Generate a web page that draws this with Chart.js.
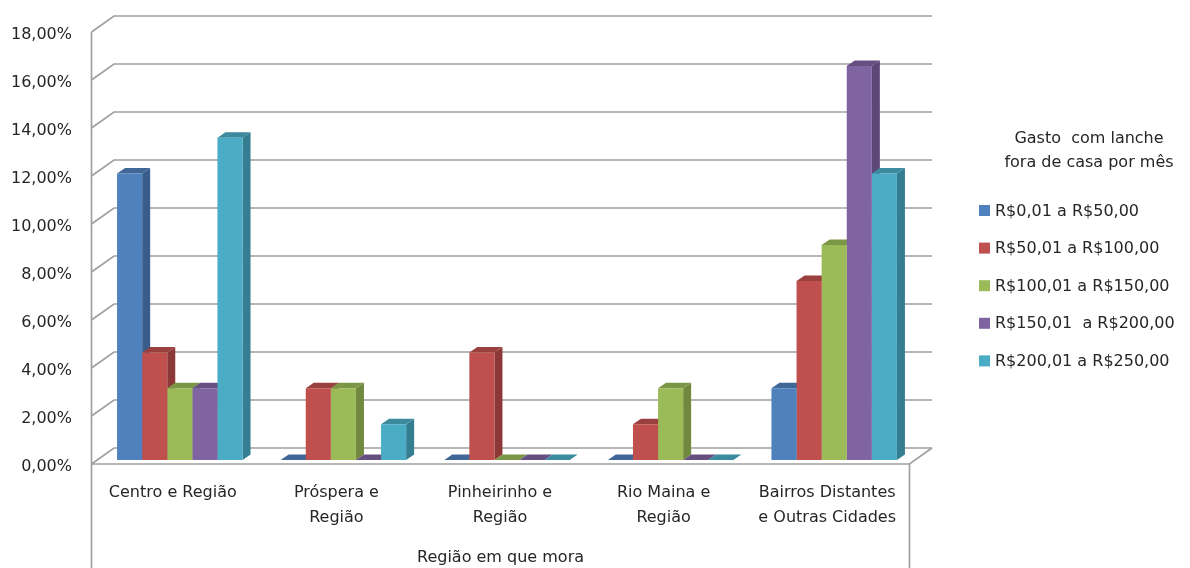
<!DOCTYPE html>
<html><head><meta charset="utf-8">
<script src="https://cdn.jsdelivr.net/npm/chart.js@4/dist/chart.umd.min.js"></script>
<style>html,body{margin:0;padding:0;background:#fff;}#wrap{width:1190px;height:568px;position:relative}</style>
</head><body><div id="wrap"><canvas id="c" width="1190" height="568"></canvas></div>
<script>
// ---- data ----
const categories = ["Centro e Região", ["Próspera e", "Região"], ["Pinheirinho e", "Região"], ["Rio Maina e", "Região"], ["Bairros Distantes", "e Outras Cidades"]];
const seriesNames = ["R$0,01 a R$50,00", "R$50,01 a R$100,00", "R$100,01 a R$150,00", "R$150,01  a R$200,00", "R$200,01 a R$250,00"];
const s1 = [11.94, 0, 0, 0, 2.99];
const s2 = [4.48, 2.99, 4.48, 1.49, 7.46];
const s3 = [2.99, 2.99, 0, 2.99, 8.96];
const s4 = [2.99, 0, 0, 0, 16.42];
const s5 = [13.43, 1.49, 0, 0, 11.94];
const yTicks = [0, 2, 4, 6, 8, 10, 12, 14, 16, 18];
const axisTitle = "Região em que mora";
const legendTitle = ["Gasto  com lanche", "fora de casa por mês"];

// ---- styles ----
const frontColors = ["#4F81BD", "#C0504D", "#9BBB59", "#8064A2", "#4BACC6"];
const sideColors  = ["#385D8A", "#8C3836", "#71893F", "#5C4776", "#357D91"];
const topColors   = ["#3F6797", "#9A403E", "#7C9647", "#665082", "#3C8A9E"];
const FONT = "'DejaVu Sans', sans-serif";
const TXT = "#262626";

const seriesValues = [s1, s2, s3, s4, s5];

function poly(ctx, pts, fill) {
  ctx.beginPath();
  ctx.moveTo(pts[0][0], pts[0][1]);
  for (let i = 1; i < pts.length; i++) ctx.lineTo(pts[i][0], pts[i][1]);
  ctx.closePath();
  ctx.fillStyle = fill;
  ctx.fill();
}

const threeD = {
  id: 'threeD',
  beforeDatasetsDraw(chart) {
    const ctx = chart.ctx, a = chart.chartArea, y = chart.scales.y;
    const fL = a.left - 6.5, bL = a.left + 16, bR = a.right + 16, fR = a.right - 6.5;
    const fdy = 4, bdy = -12;
    ctx.save();
    ctx.strokeStyle = '#a0a0a0';
    ctx.lineWidth = 1.7;
    yTicks.forEach(v => {
      const py = y.getPixelForValue(v);
      ctx.beginPath();
      ctx.moveTo(fL, py + fdy); ctx.lineTo(bL, py + bdy); ctx.lineTo(bR, py + bdy);
      ctx.stroke();
    });
    const y0 = y.getPixelForValue(0), yT = y.getPixelForValue(yTicks[yTicks.length - 1]);
    ctx.beginPath(); ctx.moveTo(fL, yT + fdy); ctx.lineTo(fL, chart.height); ctx.stroke();
    ctx.beginPath(); ctx.moveTo(fL, y0 + fdy); ctx.lineTo(fR, y0 + fdy); ctx.lineTo(bR, y0 + bdy); ctx.stroke();
    ctx.beginPath(); ctx.moveTo(fR, y0 + fdy); ctx.lineTo(fR, chart.height); ctx.stroke();
    // bar depth faces
    const dx = 8, dy = -5.5;
    const n = chart.data.labels.length;
    for (let i = 0; i < n; i++) {
      for (let d = 0; d < chart.data.datasets.length; d++) {
        const bar = chart.getDatasetMeta(d).data[i];
        const p = bar.getProps(['x', 'y', 'base', 'width'], true);
        const x1 = p.x - p.width / 2, x2 = p.x + p.width / 2;
        const top = p.y, base = p.base;
        poly(ctx, [[x2, top], [x2 + dx, top + dy], [x2 + dx, base + dy], [x2, base]], sideColors[d]);
        poly(ctx, [[x1, top], [x2, top], [x2 + dx, top + dy], [x1 + dx, top + dy]], topColors[d]);
      }
    }
    ctx.restore();
  },
  afterDraw(chart) {
    const ctx = chart.ctx, a = chart.chartArea;
    ctx.save();
    ctx.fillStyle = TXT;
    ctx.font = "16px " + FONT;
    ctx.textBaseline = 'middle';
    ctx.textAlign = 'center';
    const fL = a.left - 6.5, fR = a.right - 6.5;
    ctx.fillText(axisTitle, (fL + fR) / 2, 558);
    ctx.fillText(legendTitle[0], 1089, 139);
    ctx.fillText(legendTitle[1], 1089, 163);
    ctx.textAlign = 'left';
    chart.data.datasets.forEach((ds, d) => {
      const cy = 210.5 + d * 37.6;
      ctx.fillStyle = ds.backgroundColor;
      ctx.fillRect(979, cy - 5.5, 11, 11);
      ctx.fillStyle = TXT;
      ctx.fillText(ds.label, 995, cy + 1);
    });
    ctx.restore();
  }
};

new Chart(document.getElementById('c'), {
  type: 'bar',
  data: {
    labels: categories,
    datasets: seriesNames.map((name, d) => ({
      label: name,
      data: seriesValues[d],
      backgroundColor: frontColors[d],
      borderWidth: 0,
      categoryPercentage: 0.767,
      barPercentage: 1.0
    }))
  },
  options: {
    responsive: false,
    animation: false,
    layout: { padding: { top: 28, right: 274, left: 0, bottom: 0 } },
    plugins: { legend: { display: false }, tooltip: { enabled: false } },
    scales: {
      x: {
        grid: { display: false, drawTicks: false },
        border: { display: false },
        ticks: { color: TXT, font: { family: FONT, size: 16, lineHeight: 1.5625 }, padding: 20, labelOffset: -7, maxRotation: 0, autoSkip: false },
        afterFit(scale) { scale.height = 108; }
      },
      y: {
        min: 0, max: 18,
        grid: { display: false, drawTicks: false },
        border: { display: false },
        afterBuildTicks(scale) { scale.ticks = yTicks.map(v => ({ value: v })); },
        ticks: {
          color: TXT, font: { family: FONT, size: 16 }, padding: 26, labelOffset: 7,
          callback: v => v.toFixed(2).replace('.', ',') + '%'
        },
        afterFit(scale) { scale.width = 98; scale.paddingTop = 0; scale.paddingBottom = 0; }
      }
    }
  },
  plugins: [threeD]
});
</script>
</body></html>
